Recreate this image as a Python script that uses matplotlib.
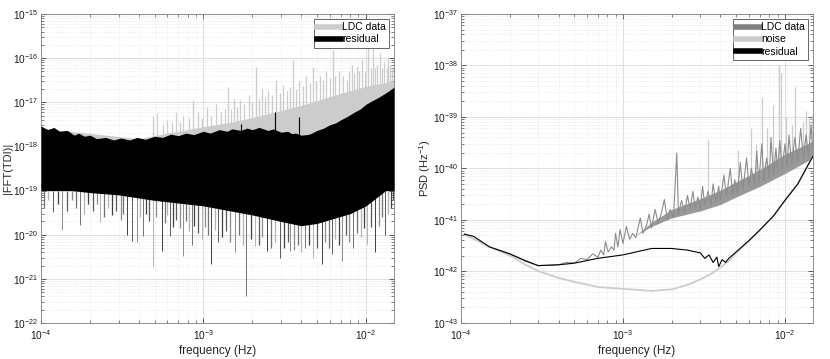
import numpy as np
import matplotlib
matplotlib.use("Agg")
import matplotlib.pyplot as plt
from matplotlib.lines import Line2D

plt.rcParams['font.family'] = ['Liberation Sans', 'DejaVu Sans']
plt.rcParams['mathtext.fontset'] = 'custom'
plt.rcParams['mathtext.rm'] = 'Liberation Sans'

# ---------------- left panel: |FFT(TDI)| ----------------
# residual band, jagged upper edge
f_res_hi = [1e-4, 1.1e-4, 1.2e-4, 1.3e-4, 1.45e-4, 1.6e-4, 1.7e-4, 1.85e-4, 2e-4, 2.2e-4, 2.5e-4,
            2.8e-4, 3.1e-4, 3.5e-4, 3.9e-4, 4.4e-4, 5e-4, 5.6e-4, 6.3e-4, 7e-4, 7.8e-4, 8.7e-4,
            1e-3, 1.1e-3, 1.25e-3, 1.4e-3, 1.5e-3, 1.7e-3, 1.85e-3, 2e-3, 2.2e-3, 2.5e-3, 2.7e-3,
            3e-3, 3.3e-3, 3.5e-3, 3.7e-3, 4e-3, 4.3e-3, 4.5e-3, 5e-3, 5.5e-3, 6e-3, 6.5e-3, 7e-3,
            7.7e-3, 8.5e-3, 9.2e-3, 1e-2, 1.1e-2, 1.2e-2, 1.35e-2, 1.49e-2]
res_hi = [2.9e-18, 2.4e-18, 2.7e-18, 2.2e-18, 2.3e-18, 1.8e-18, 2.0e-18, 1.7e-18, 1.8e-18, 1.5e-18,
          1.6e-18, 1.4e-18, 1.55e-18, 1.4e-18, 1.6e-18, 1.45e-18, 1.7e-18, 1.6e-18, 1.9e-18, 1.75e-18,
          2.0e-18, 1.85e-18, 2.2e-18, 2.0e-18, 2.4e-18, 2.2e-18, 2.5e-18, 2.3e-18, 2.6e-18, 2.4e-18,
          2.7e-18, 2.3e-18, 2.5e-18, 2.1e-18, 2.2e-18, 1.95e-18, 2.0e-18, 1.8e-18, 1.85e-18, 1.9e-18,
          2.3e-18, 2.6e-18, 3.1e-18, 3.4e-18, 4.0e-18, 4.8e-18, 6.0e-18, 7.0e-18, 9.0e-18, 1.1e-17,
          1.3e-17, 1.7e-17, 2.2e-17]
# residual band, solid lower edge
f_res_lo = [1e-4, 2e-4, 3e-4, 5e-4, 1e-3, 2e-3, 3e-3, 4e-3, 5e-3, 6e-3, 8e-3, 1e-2, 1.49e-2]
res_lo = [1.2e-19, 9e-20, 8e-20, 6e-20, 4.5e-20, 2.8e-20, 2.0e-20, 1.6e-20, 1.8e-20, 2.2e-20,
          3.0e-20, 4.5e-20, 1.4e-19]

# LDC data band above the residual
f_ldc = [1e-4, 4e-4, 6e-4, 8e-4, 1e-3, 1.5e-3, 2e-3, 3e-3, 4e-3, 5.5e-3, 7e-3, 1e-2, 1.49e-2]
ldc_hi = [2.6e-18, 1.5e-18, 2.0e-18, 2.4e-18, 2.8e-18, 3.6e-18, 4.5e-18, 6.5e-18, 8.5e-18,
          1.2e-17, 1.6e-17, 2.3e-17, 3.0e-17]

# LDC spikes (frequency, peak)
ldc_spike_f = [4.9e-4, 5.2e-4, 5.6e-4, 6e-4, 6.4e-4, 6.8e-4, 7.2e-4, 7.5e-4, 8.1e-4, 8.6e-4,
               9.3e-4, 9.8e-4, 1.05e-3, 1.12e-3, 1.2e-3, 1.28e-3, 1.35e-3, 1.41e-3, 1.48e-3,
               1.55e-3, 1.62e-3, 1.68e-3, 1.78e-3, 1.9e-3, 2.0e-3, 2.12e-3, 2.2e-3, 2.3e-3,
               2.4e-3, 2.5e-3, 2.65e-3, 2.8e-3, 2.95e-3, 3.1e-3, 3.25e-3, 3.4e-3, 3.56e-3,
               3.7e-3, 3.9e-3, 4.1e-3, 4.3e-3, 4.5e-3, 4.7e-3, 4.95e-3, 5.2e-3, 5.45e-3, 5.7e-3,
               6.0e-3, 6.27e-3, 6.5e-3, 6.8e-3, 7.2e-3, 7.6e-3, 7.9e-3, 8.2e-3, 8.5e-3, 8.8e-3,
               9.1e-3, 9.5e-3, 9.9e-3, 1.03e-2, 1.07e-2, 1.1e-2, 1.14e-2, 1.17e-2, 1.22e-2,
               1.26e-2, 1.3e-2, 1.34e-2, 1.37e-2, 1.41e-2, 1.45e-2, 1.48e-2]
ldc_spike_v = [5e-18, 5.6e-18, 3e-18, 4e-18, 3.5e-18, 6e-18, 3.5e-18, 5e-18, 4.5e-18, 1.1e-17,
               6e-18, 4.5e-18, 8e-18, 5e-18, 9e-18, 6e-18, 7e-18, 2.2e-17, 7e-18,
               1.2e-17, 8e-18, 1.1e-17, 9e-18, 1.5e-17, 1e-17, 6.3e-17, 1.2e-17, 2e-17,
               1.3e-17, 1.8e-17, 1.5e-17, 3.2e-17, 1.6e-17, 2.5e-17, 1.8e-17, 2.2e-17, 8.9e-17,
               2e-17, 3e-17, 2.4e-17, 4e-17, 2.8e-17, 6.3e-17, 3e-17, 4e-17, 3.2e-17, 5e-17,
               3.5e-17, 1.5e-16, 4e-17, 5e-17, 4e-17, 3.2e-17, 5e-17, 7e-17, 4.5e-17, 6.3e-17,
               5e-17, 9e-17, 5e-17, 1.8e-16, 6e-17, 2.6e-16, 6e-17, 7e-17, 1.3e-16,
               6e-17, 8e-17, 6e-17, 1.07e-16, 7e-17, 6e-17, 8e-17]
# residual spikes above the band
res_spike_f = [1.7e-3, 2.75e-3, 3.86e-3]
res_spike_v = [3.2e-18, 6e-18, 4.6e-18]

# deep dips below the band
dip_f = [1.19e-4, 1.34e-4, 1.74e-4, 2.31e-4, 3.37e-4, 3.61e-4, 3.88e-4, 4.26e-4, 4.87e-4, 5.53e-4,
         6.22e-4, 7.51e-4, 8.46e-4, 9.75e-4, 1.12e-3, 1.23e-3, 1.56e-3, 1.84e-3, 2.07e-3, 2.45e-3,
         2.96e-3, 3.41e-3, 4.21e-3, 4.74e-3, 5.34e-3, 6.15e-3, 7.09e-3, 8.35e-3, 1.01e-2, 1.14e-2, 1.31e-2]
dip_v = [3.2e-20, 1.3e-20, 1.7e-20, 1.9e-20, 1.0e-20, 7.3e-21, 6.9e-21, 9.5e-21, 2.0e-21, 4.3e-21,
         9.5e-21, 3.3e-21, 5.9e-21, 8e-21, 2.2e-21, 6.7e-21, 4e-21, 4.1e-22, 5.6e-21, 4.3e-21,
         3.0e-21, 4.3e-21, 5.1e-21, 3.0e-21, 2.2e-21, 3.6e-21, 2.6e-21, 5.1e-21, 6.1e-21, 4e-21, 1e-20]
# shallow dips forming the ragged lower edge
dip2_f = [1.05e-4, 1.1e-4, 1.27e-4, 1.45e-4, 1.55e-4, 1.65e-4, 1.85e-4, 1.95e-4, 2.1e-4, 2.2e-4,
          2.45e-4, 2.6e-4, 2.75e-4, 2.9e-4, 3.1e-4, 3.2e-4, 4.05e-4, 4.45e-4, 4.65e-4, 5.1e-4,
          5.8e-4, 6.0e-4, 6.5e-4, 6.8e-4, 7.2e-4, 7.8e-4, 8.1e-4, 8.8e-4, 9.2e-4, 1.02e-3,
          1.07e-3, 1.17e-3, 1.3e-3, 1.38e-3, 1.45e-3, 1.65e-3, 1.75e-3, 1.95e-3, 2.2e-3, 2.3e-3,
          2.6e-3, 2.75e-3, 3.15e-3, 3.3e-3, 3.6e-3, 3.8e-3, 4.0e-3, 4.45e-3, 5.0e-3, 5.6e-3,
          5.9e-3, 6.5e-3, 6.8e-3, 7.5e-3, 7.9e-3, 8.8e-3, 9.3e-3, 9.7e-3, 1.07e-2, 1.2e-2,
          1.25e-2, 1.37e-2, 1.43e-2, 1.47e-2]
dip2_v = [4e-20, 6e-20, 5e-20, 3.5e-20, 6e-20, 4e-20, 3e-20, 5e-20, 3.5e-20, 5e-20,
          2.5e-20, 4e-20, 2.8e-20, 3.5e-20, 2.2e-20, 3e-20, 2.5e-20, 3e-20, 2e-20, 2.5e-20,
          1.8e-20, 2.8e-20, 1.5e-20, 2.2e-20, 1.4e-20, 2e-20, 1.2e-20, 1.6e-20, 1.1e-20, 1.5e-20,
          1e-20, 1.3e-20, 9e-21, 1.2e-20, 7e-21, 1e-20, 6e-21, 8e-21, 6e-21, 9e-21,
          5e-21, 7e-21, 5e-21, 7e-21, 4.5e-21, 6e-21, 4e-21, 6e-21, 5e-21, 7e-21,
          5e-21, 8e-21, 6e-21, 1e-20, 7e-21, 1.1e-20, 9e-21, 1.4e-20, 1.5e-20, 1.6e-20,
          2.5e-20, 3e-20, 4e-20, 6e-20]

# ---------------- right panel: PSD ----------------
f_psd = [1.05e-4, 1.2e-4, 1.5e-4, 2e-4, 2.5e-4, 3e-4, 4e-4, 5e-4, 7e-4, 1e-3, 1.5e-3, 2e-3, 2.5e-3,
         3.0e-3, 3.2e-3, 3.4e-3, 3.6e-3, 3.8e-3, 3.9e-3, 4.1e-3, 4.3e-3, 4.5e-3, 5e-3, 6e-3, 7e-3,
         8.5e-3, 1e-2, 1.2e-2, 1.49e-2]
psd_residual = [5.3e-42, 4.8e-42, 3.0e-42, 2.2e-42, 1.6e-42, 1.3e-42, 1.35e-42, 1.45e-42, 1.8e-42,
                2.1e-42, 2.8e-42, 2.8e-42, 2.6e-42, 2.3e-42, 1.8e-42, 2.1e-42, 1.5e-42, 1.9e-42,
                1.25e-42, 1.7e-42, 1.5e-42, 1.8e-42, 2.4e-42, 4.0e-42, 6.4e-42, 1.2e-41, 2.4e-41,
                5e-41, 1.75e-40]

f_noise = [1.05e-4, 1.5e-4, 2e-4, 2.5e-4, 3e-4, 4e-4, 5e-4, 7e-4, 1e-3, 1.5e-3, 2e-3, 2.5e-3, 3e-3,
           3.5e-3, 4e-3, 4.5e-3, 5e-3, 6e-3, 7e-3, 8.5e-3, 1e-2, 1.2e-2, 1.49e-2]
psd_noise = [5.3e-42, 3.0e-42, 2.05e-42, 1.35e-42, 1.02e-42, 7.5e-43, 6.3e-43, 5e-43, 4.6e-43,
             4.2e-43, 4.5e-43, 5.5e-43, 7e-43, 9e-43, 1.2e-42, 1.6e-42, 2.3e-42, 3.9e-42, 6.3e-42,
             1.2e-41, 2.4e-41, 5e-41, 1.75e-40]

f_ldc_psd = [1.05e-4, 1.5e-4, 2e-4, 3e-4, 4.0e-4, 4.5e-4, 5.0e-4, 5.5e-4, 6.0e-4, 6.5e-4, 7.0e-4,
             7.3e-4, 7.6e-4, 7.8e-4, 8.1e-4, 8.5e-4, 8.8e-4, 9.0e-4, 9.3e-4, 9.6e-4, 1.0e-3,
             1.05e-3, 1.1e-3, 1.15e-3, 1.2e-3, 1.28e-3, 1.33e-3, 1.4e-3, 1.45e-3, 1.5e-3, 1.58e-3,
             1.65e-3, 1.72e-3, 1.8e-3, 1.88e-3, 1.95e-3, 2.05e-3, 2.15e-3, 2.2e-3, 2.3e-3, 2.4e-3,
             2.5e-3, 2.6e-3, 2.7e-3, 2.8e-3, 2.9e-3, 3.0e-3, 3.1e-3, 3.2e-3, 3.35e-3, 3.5e-3,
             3.6e-3, 3.75e-3, 3.9e-3, 4.0e-3, 4.2e-3, 4.35e-3, 4.6e-3, 4.75e-3, 4.9e-3, 5.1e-3,
             5.3e-3, 5.5e-3, 5.8e-3, 6.0e-3, 6.2e-3, 6.5e-3, 6.7e-3, 6.9e-3, 7.2e-3, 7.4e-3,
             7.7e-3, 8.0e-3, 8.2e-3, 8.5e-3, 8.8e-3, 9.0e-3, 9.3e-3, 9.6e-3, 1.0e-2, 1.03e-2,
             1.06e-2, 1.1e-2, 1.15e-2, 1.2e-2, 1.25e-2, 1.3e-2, 1.35e-2, 1.4e-2, 1.45e-2, 1.49e-2]
psd_ldc = [5.3e-42, 3.0e-42, 2.2e-42, 1.3e-42, 1.35e-42, 1.5e-42, 1.45e-42, 1.8e-42, 1.7e-42, 2.2e-42,
           1.9e-42, 2.6e-42, 2.1e-42, 3.8e-42, 2.4e-42, 3.0e-42, 2.6e-42, 5.5e-42, 3.0e-42, 6.5e-42,
           3.5e-42, 7.5e-42, 4.2e-42, 5.5e-42, 4.5e-42, 1.1e-41, 5.5e-42, 8e-42, 1.3e-41, 7e-42,
           1.6e-41, 8.5e-42, 1.3e-41, 2.5e-41, 1.0e-41, 1.6e-41, 1.1e-41, 2.0e-40, 1.3e-41, 2.4e-41,
           1.4e-41, 3.0e-41, 1.6e-41, 3.6e-41, 1.7e-41, 2.8e-41, 1.6e-41, 4.5e-41, 1.9e-41, 3.6e-41,
           2.0e-41, 5.0e-41, 2.2e-41, 4.5e-41, 2.4e-41, 7.5e-41, 2.8e-41, 1.0e-40, 3.0e-41, 6e-41,
           3.3e-41, 1.3e-40, 3.8e-41, 1.6e-40, 4.3e-41, 1.0e-40, 4.8e-41, 2.2e-40, 5.3e-41, 3.0e-40,
           5.8e-41, 1.6e-40, 6.5e-41, 4.0e-40, 7.5e-41, 2.5e-40, 8.5e-41, 3.5e-40, 9.5e-41, 3e-40,
           1.05e-40, 4.5e-40, 1.15e-40, 4e-40, 1.35e-40, 6e-40, 1.55e-40, 4.5e-40, 1.75e-40, 7e-40, 2.0e-40]
# dense part of the data trace
f_ldc_band = [1.2e-3, 1.5e-3, 2e-3, 3e-3, 4e-3, 5e-3, 7e-3, 1e-2, 1.49e-2]
ldc_band_lo = [5e-42, 7.5e-42, 1.1e-41, 1.5e-41, 2.0e-41, 2.8e-41, 4.5e-41, 8e-41, 1.6e-40]
ldc_band_hi = [5e-42, 9e-42, 1.6e-41, 2.6e-41, 3.8e-41, 5.5e-41, 9.5e-41, 1.9e-40, 3.4e-40]

# tall light spikes behind the data
psd_tall_f = [3.35e-3, 5.1e-3, 6.2e-3, 6.6e-3, 7.2e-3, 7.8e-3, 8.4e-3, 9.2e-3, 9.5e-3, 1.02e-2,
              1.1e-2, 1.15e-2, 1.3e-2, 1.35e-2, 1.4e-2, 1.47e-2]
psd_tall_base = [2e-41, 3e-41, 4e-41, 4.5e-41, 5e-41, 6e-41, 7e-41, 8e-41, 9e-41, 1e-40,
                 1.1e-40, 1.2e-40, 1.5e-40, 1.6e-40, 1.7e-40, 1.9e-40]
psd_tall_v = [3.5e-40, 2.3e-40, 6e-40, 3e-40, 2.5e-39, 6e-40, 1.7e-39, 1e-38, 7e-39, 1.0e-39,
              7e-40, 3.9e-39, 8e-40, 1.3e-39, 9.5e-40, 1.1e-39]


def style_axes(ax, ylo, yhi):
    ax.set_xscale('log')
    ax.set_yscale('log')
    ax.set_xlim(1e-4, 1.49e-2)
    ax.set_ylim(ylo, yhi)
    ax.set_yticks([10.0 ** k for k in range(int(np.log10(ylo)), int(np.log10(yhi)) + 1)])
    ax.grid(True, which='major', color='0.86', lw=0.6)
    ax.grid(True, which='minor', color='0.88', lw=0.5, ls=':')
    ax.set_axisbelow(True)
    ax.tick_params(which='both', direction='in', top=True, right=True, colors='0.15',
                   labelsize=7.3, labelcolor='0.1')
    ax.tick_params(axis='y', pad=2.2)
    ax.tick_params(axis='x', pad=4)
    ax.tick_params(which='major', length=3.5, width=0.5)
    ax.tick_params(which='minor', length=2, width=0.4)
    for s in ax.spines.values():
        s.set_color('0.5')
        s.set_linewidth(0.6)
    ax.set_xlabel('frequency (Hz)', fontsize=8.5, color='0.15', labelpad=2)


fig = plt.figure(figsize=(8.3, 3.59), dpi=100)
ax1 = fig.add_axes([0.0494, 0.1003, 0.4253, 0.8607])
ax2 = fig.add_axes([0.5554, 0.1003, 0.4241, 0.8607])

# left
ax1.fill_between(f_ldc, 1e-18, ldc_hi, color='0.8', lw=0, zorder=2)
ax1.vlines(ldc_spike_f, 1e-18, ldc_spike_v, color='0.8', lw=0.9, zorder=2)
dip_colors = ['0.35', '0.55', '0.45', '0.7', '0.25']
ax1.vlines(dip_f, dip_v, 1e-19, colors=[dip_colors[i % 5] for i in range(len(dip_f))],
           lw=0.7, zorder=3)
ax1.vlines(dip2_f, dip2_v, 1e-19, colors=[dip_colors[(i + 2) % 5] for i in range(len(dip2_f))],
           lw=0.9, zorder=3)
ax1.fill_between(f_res_hi, 1e-19, res_hi, color='black', lw=0, zorder=4)
ax1.fill_between(f_res_lo, res_lo, 1.5e-19, color='black', lw=0, zorder=4)
ax1.vlines(res_spike_f, 1e-18, res_spike_v, color='black', lw=0.8, zorder=4)
style_axes(ax1, 1e-22, 1e-15)
ax1.set_ylabel('|FFT(TDI)|', fontsize=8, color='0.15')
ax1.yaxis.set_label_coords(-0.08, 0.5)
h1 = [Line2D([], [], color='0.8', lw=4), Line2D([], [], color='black', lw=4)]
leg1 = ax1.legend(h1, ['LDC data', 'residual'], loc='upper right', fontsize=7.5,
                  handlelength=2.3, handletextpad=0.1, borderpad=0.3, labelspacing=0.2,
                  fancybox=False, framealpha=1, edgecolor='0.3', borderaxespad=0.5)
leg1.get_frame().set_linewidth(0.6)

# right
ax2.vlines(psd_tall_f, psd_tall_base, psd_tall_v, color='0.8', lw=0.9, zorder=2)
ax2.fill_between(f_ldc_band, ldc_band_lo, ldc_band_hi, color='0.6', lw=0, zorder=3)
ax2.plot(f_ldc_psd, psd_ldc, color='0.55', lw=0.8, zorder=3)
ax2.plot(f_noise, psd_noise, color='0.8', lw=1.3, zorder=4)
ax2.plot(f_psd, psd_residual, color='black', lw=0.8, zorder=5)
style_axes(ax2, 1e-43, 1e-37)
ax2.set_ylabel('PSD (Hz$^{-1}$)', fontsize=8, color='0.15')
ax2.yaxis.set_label_coords(-0.08, 0.5)
h2 = [Line2D([], [], color='0.5', lw=4), Line2D([], [], color='0.8', lw=4),
      Line2D([], [], color='black', lw=4)]
leg2 = ax2.legend(h2, ['LDC data', 'noise', 'residual'], loc='upper right', fontsize=7.5,
                  handlelength=2.3, handletextpad=0.1, borderpad=0.3, labelspacing=0.2,
                  fancybox=False, framealpha=1, edgecolor='0.3', borderaxespad=0.5)
leg2.get_frame().set_linewidth(0.6)

fig.savefig('out.png', dpi=100)
